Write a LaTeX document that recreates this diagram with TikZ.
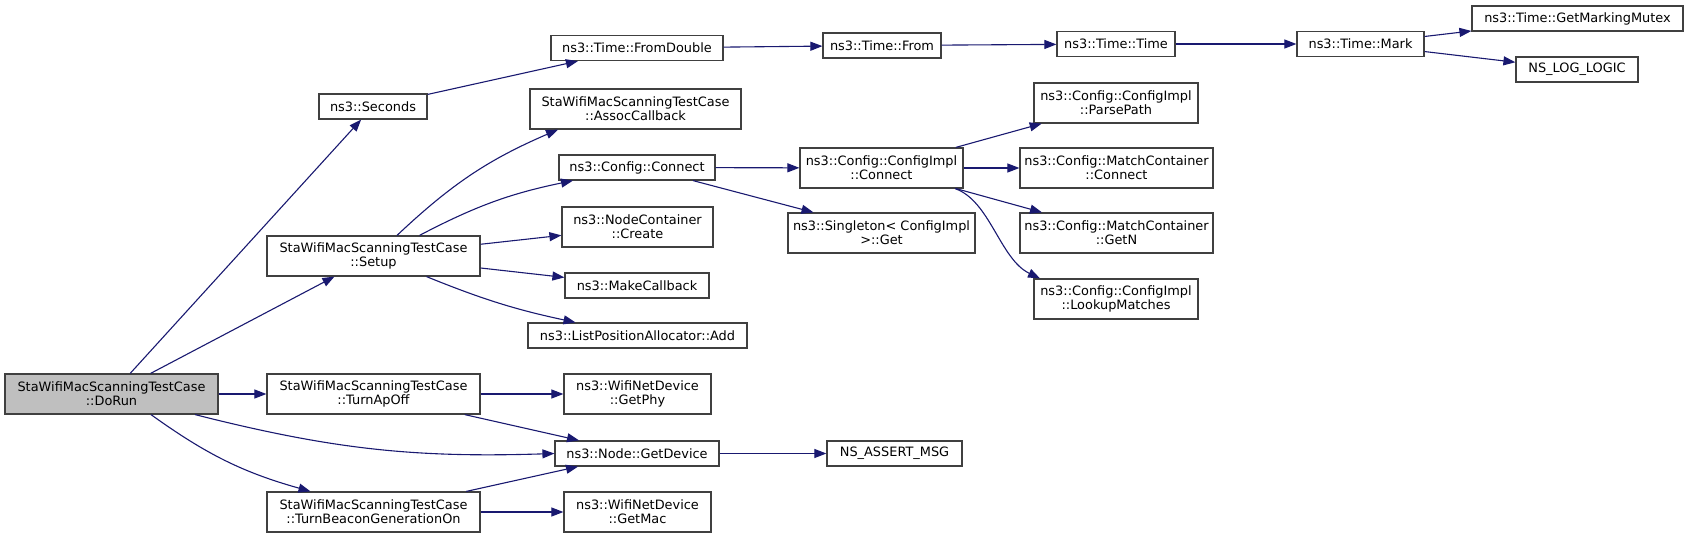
\documentclass[tikz,border=0pt]{standalone}
\usepackage{fontspec}
\setmainfont{DejaVu Sans}
\usetikzlibrary{arrows.meta}
\definecolor{edgeblue}{HTML}{191970}
\definecolor{nodegray}{HTML}{404040}
\definecolor{rootgray}{HTML}{BFBFBF}

\begin{document}
\begin{tikzpicture}[
    x=1pt, y=-1pt,
    every node/.style={font=\fontsize{12.9}{14.3}\selectfont},
    fn/.style={draw=nodegray, line width=1.2pt, align=center, inner sep=0pt, fill=white, minimum height=25pt},
    fntwo/.style={fn, minimum height=40pt},
    call/.style={-{Triangle[length=12pt,width=9pt]}, draw=edgeblue, fill=none, line width=1.1pt}
]
\useasboundingbox (0,0) rectangle (1688,538);

\node[fntwo, fill=rootgray, minimum width=213pt] (dorun) at (111.5,394) {StaWifiMacScanningTestCase\\::DoRun};
\node[fn, minimum width=108pt] (seconds) at (373,106.5) {ns3::Seconds};
\node[fntwo, minimum width=213pt] (setup) at (373.5,256) {StaWifiMacScanningTestCase\\::Setup};
\node[fntwo, minimum width=213pt] (apoff) at (373.5,394) {StaWifiMacScanningTestCase\\::TurnApOff};
\node[fntwo, minimum width=213pt] (beacon) at (373.5,512) {StaWifiMacScanningTestCase\\::TurnBeaconGenerationOn};

\node[fn, minimum width=172pt] (fromdouble) at (637,48) {ns3::Time::FromDouble};
\node[fntwo, minimum width=211pt] (assoc) at (635.5,109) {StaWifiMacScanningTestCase\\::AssocCallback};
\node[fn, minimum width=156pt] (cfgconnect) at (637,167.5) {ns3::Config::Connect};
\node[fntwo, minimum width=151pt] (create) at (637.5,227) {ns3::NodeContainer\\::Create};
\node[fn, minimum width=144pt] (makecb) at (637,285.5) {ns3::MakeCallback};
\node[fn, minimum width=219pt] (listadd) at (637.5,335.5) {ns3::ListPositionAllocator::Add};
\node[fntwo, minimum width=147pt] (getphy) at (637.5,394) {ns3::WifiNetDevice\\::GetPhy};
\node[fn, minimum width=164pt] (getdevice) at (637,453.5) {ns3::Node::GetDevice};
\node[fntwo, minimum width=147pt] (getmac) at (637.5,512) {ns3::WifiNetDevice\\::GetMac};

\node[fn, minimum width=118pt] (timefrom) at (882,45.5) {ns3::Time::From};
\node[fntwo, minimum width=163pt] (implconnect) at (881.5,168) {ns3::Config::ConfigImpl\\::Connect};
\node[fntwo, minimum width=187pt] (singleton) at (881.5,233) {ns3::Singleton< ConfigImpl\\>::Get};
\node[fn, minimum width=135pt] (assertmsg) at (894.5,453.5) {NS\_ASSERT\_MSG};

\node[fn, minimum width=118pt] (timetime) at (1116,44) {ns3::Time::Time};
\node[fntwo, minimum width=164pt] (parsepath) at (1116,103) {ns3::Config::ConfigImpl\\::ParsePath};
\node[fntwo, minimum width=193pt] (mcconnect) at (1116.5,168) {ns3::Config::MatchContainer\\::Connect};
\node[fntwo, minimum width=193pt] (getn) at (1116.5,233) {ns3::Config::MatchContainer\\::GetN};
\node[fntwo, minimum width=164pt] (lookup) at (1116,299) {ns3::Config::ConfigImpl\\::LookupMatches};

\node[fn, minimum width=127pt] (mark) at (1360.5,44) {ns3::Time::Mark};
\node[fn, minimum width=211pt] (mutex) at (1577.5,18.5) {ns3::Time::GetMarkingMutex};
\node[fn, minimum width=122pt] (loglogic) at (1577,69.5) {NS\_LOG\_LOGIC};

\draw[call] (dorun) -- (seconds);
\draw[call] (dorun) -- (setup);
\draw[call] (dorun) -- (apoff);
\draw[call] ([xshift=83.5pt]dorun.south) to[bend right=8] (getdevice.west);
\draw[call] ([xshift=39.5pt]dorun.south) to[bend right=10] ([xshift=-63pt]beacon.north);
\draw[call] (seconds) -- (fromdouble);
\draw[call] ([xshift=23.5pt]setup.north) to[bend left=10] ([xshift=-77.5pt]assoc.south);
\draw[call] ([xshift=46pt]setup.north) to[bend left=8] ([xshift=-64pt]cfgconnect.south);
\draw[call] (setup) -- (create);
\draw[call] (setup) -- (makecb);
\draw[call] ([xshift=53pt]setup.south) to[bend right=5] ([xshift=-62pt]listadd.north);
\draw[call] (fromdouble) -- (timefrom);
\draw[call] (timefrom) -- (timetime);
\draw[call] (timetime) -- (mark);
\draw[call] (mark) -- (mutex);
\draw[call] (mark) -- (loglogic);
\draw[call] (cfgconnect) -- (implconnect);
\draw[call] ([xshift=56pt]cfgconnect.south) -- ([xshift=-68pt]singleton.north);
\draw[call] (implconnect) -- (parsepath);
\draw[call] (implconnect) -- (mcconnect);
\draw[call] (implconnect) -- (getn);
\draw[call] ([xshift=73.5pt]implconnect.south) .. controls +(35,12) and +(-40,-19) .. ([xshift=-76pt]lookup.north);
\draw[call] (apoff) -- (getphy);
\draw[call] (apoff) -- (getdevice);
\draw[call] (beacon) -- (getdevice);
\draw[call] (beacon) -- (getmac);
\draw[call] (getdevice) -- (assertmsg);
\end{tikzpicture}
\end{document}
